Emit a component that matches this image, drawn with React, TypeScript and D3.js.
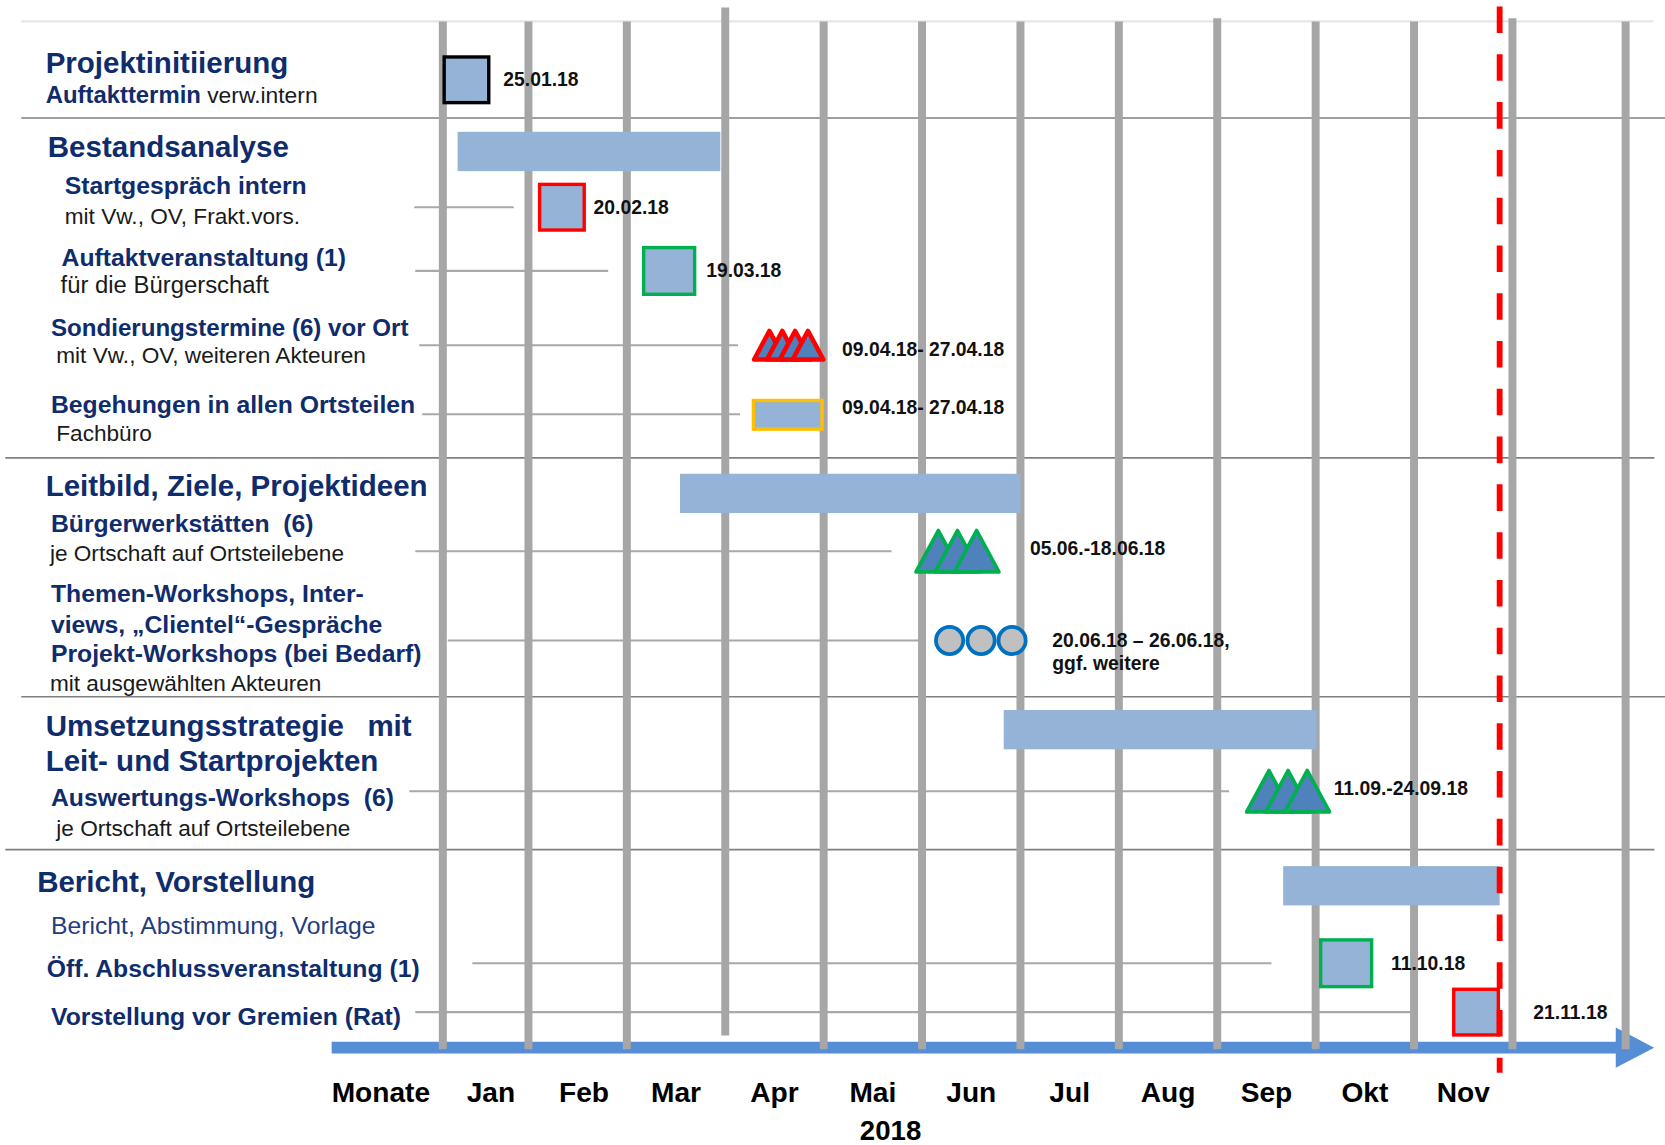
import React from 'react';
import * as d3 from 'd3';

// Positionen in Monatseinheiten: 0 = Anfang Jan, 1 = Anfang Feb, ...
const months = ['Jan', 'Feb', 'Mar', 'Apr', 'Mai', 'Jun', 'Jul', 'Aug', 'Sep', 'Okt', 'Nov'];
const gridMonths = [0.13, 1, 2, 3, 4, 5, 6, 7, 8, 9, 10, 11, 12.15];
const axisTitle = 'Monate';
const yearLabel = '2018';
const yearPos = 4.68;
const deadlinePos = 10.87;

const rows = ['init', 'bestand', 'start', 'auftakt', 'sond', 'beg', 'leit', 'bw', 'tw', 'ums', 'ausw', 'bericht', 'abschluss', 'gremien'];

// Phasen (Balken)
const phaseBars = [
  { row: 'bestand', start: 0.28, end: 2.95 },
  { row: 'leit', start: 2.54, end: 6.0 },
  { row: 'ums', start: 5.83, end: 9.01 },
  { row: 'bericht', start: 8.67, end: 10.87 },
];

// Einzeltermine (Quadrate)
const squareEvents = [
  { row: 'init', pos: 0.37, kind: 'intern', label: '25.01.18', labelPos: 0.745 },
  { row: 'start', pos: 1.34, kind: 'gremium', label: '20.02.18', labelPos: 1.662 },
  { row: 'auftakt', pos: 2.43, kind: 'oeffentlich', label: '19.03.18', labelPos: 2.806 },
  { row: 'abschluss', pos: 9.31, kind: 'oeffentlich', label: '11.10.18', labelPos: 9.766 },
  { row: 'gremien', pos: 10.63, kind: 'gremium', label: '21.11.18', labelPos: 11.212 },
];

// Terminserien (Dreiecke)
const triangleEvents = [
  { row: 'sond', start: 3.27, end: 4.02, count: 4, kind: 'gremium', label: '09.04.18- 27.04.18', labelPos: 4.187 },
  { row: 'bw', start: 4.92, end: 5.8, count: 3, kind: 'oeffentlich', label: '05.06.-18.06.18', labelPos: 6.097 },
  { row: 'ausw', start: 8.28, end: 9.16, count: 3, kind: 'oeffentlich', label: '11.09.-24.09.18', labelPos: 9.183 },
];

const rectEvents = [
  { row: 'beg', start: 3.27, end: 4.0, label: '09.04.18- 27.04.18', labelPos: 4.187 },
];

const circleEvents = [
  { row: 'tw', centers: [5.28, 5.6, 5.915], label: ['20.06.18 – 26.06.18,', 'ggf. weitere'], labelPos: 6.324 },
];

// Verbindungslinien Text -> Termin
const connectors = [
  { row: 'start', start: -0.16, end: 0.85 },
  { row: 'auftakt', start: -0.15, end: 1.81 },
  { row: 'sond', start: -0.11, end: 3.13 },
  { row: 'beg', start: -0.08, end: 3.15 },
  { row: 'bw', start: -0.15, end: 4.69 },
  { row: 'tw', start: 0.18, end: 4.96 },
  { row: 'ausw', start: -0.21, end: 8.12 },
  { row: 'abschluss', start: 0.43, end: 8.55 },
  { row: 'gremien', start: -0.15, end: 9.98 },
];

// ---------- Layout ----------
const W = 1568;
const H = 1078;
const FONT = "'Liberation Sans', Arial, Helvetica, sans-serif";
const NAVY = '#0f2c6c';
const BAR = '#95b3d7';
const GRID = '#a6a6a6';
const kindColor = { intern: '#000000', gremium: '#ff0000', oeffentlich: '#00b050' };
const rowY = [75, 142.5, 195, 255, 325, 390, 464.5, 519, 603, 687, 745, 834, 907, 953];

const H1 = 27.8, H2 = 23.3, H3 = 21.3;
const leftLabels = [
  { x: 43, y: 69, size: H1, bold: true, color: NAVY, text: 'Projektinitiierung' },
  { x: 43, y: 97, size: 22.5, bold: true, color: NAVY, text: 'Auftakttermin', tail: ' verw.intern' },
  { x: 45, y: 148, size: H1, bold: true, color: NAVY, text: 'Bestandsanalyse' },
  { x: 61, y: 183, size: H2, bold: true, color: NAVY, text: 'Startgespräch intern' },
  { x: 61, y: 211, size: H3, bold: false, color: '#1a1a1a', text: 'mit Vw., OV, Frakt.vors.' },
  { x: 58, y: 250, size: H2, bold: true, color: NAVY, text: 'Auftaktveranstaltung (1)' },
  { x: 57, y: 276, size: 22.5, bold: false, color: '#1a1a1a', text: 'für die Bürgerschaft' },
  { x: 48, y: 316, size: 22.7, bold: true, color: NAVY, text: 'Sondierungstermine (6) vor Ort' },
  { x: 53, y: 342, size: H3, bold: false, color: '#1a1a1a', text: 'mit Vw., OV, weiteren Akteuren' },
  { x: 48, y: 389, size: H2, bold: true, color: NAVY, text: 'Begehungen in allen Ortsteilen' },
  { x: 53, y: 415, size: H3, bold: false, color: '#1a1a1a', text: 'Fachbüro' },
  { x: 43, y: 467, size: H1, bold: true, color: NAVY, text: 'Leitbild, Ziele, Projektideen' },
  { x: 48, y: 501, size: H2, bold: true, color: NAVY, text: 'Bürgerwerkstätten\u00a0 (6)' },
  { x: 47, y: 528, size: H3, bold: false, color: '#1a1a1a', text: 'je Ortschaft auf Ortsteilebene' },
  { x: 48, y: 567, size: H2, bold: true, color: NAVY, text: 'Themen-Workshops, Inter-' },
  { x: 48, y: 596, size: H2, bold: true, color: NAVY, text: 'views, „Clientel“-Gespräche' },
  { x: 48, y: 623, size: H2, bold: true, color: NAVY, text: 'Projekt-Workshops (bei Bedarf)' },
  { x: 47, y: 651, size: H3, bold: false, color: '#1a1a1a', text: 'mit ausgewählten Akteuren' },
  { x: 43, y: 693, size: H1, bold: true, color: NAVY, text: 'Umsetzungsstrategie' },
  { x: 346, y: 693, size: H1, bold: true, color: NAVY, text: 'mit' },
  { x: 43, y: 726, size: H1, bold: true, color: NAVY, text: 'Leit- und Startprojekten' },
  { x: 48, y: 759, size: H2, bold: true, color: NAVY, text: 'Auswertungs-Workshops\u00a0 (6)' },
  { x: 53, y: 787, size: H3, bold: false, color: '#1a1a1a', text: 'je Ortschaft auf Ortsteilebene' },
  { x: 35, y: 840, size: H1, bold: true, color: NAVY, text: 'Bericht, Vorstellung' },
  { x: 48, y: 879, size: H2, bold: false, color: '#1f3d80', text: 'Bericht, Abstimmung, Vorlage' },
  { x: 44, y: 920, size: H2, bold: true, color: NAVY, text: 'Öff. Abschlussveranstaltung (1)' },
  { x: 48, y: 965, size: H2, bold: true, color: NAVY, text: 'Vorstellung vor Gremien (Rat)' },
];

const separators = [
  { y: 111, x1: 20, x2: 1568 },
  { y: 431, x1: 5, x2: 1558 },
  { y: 656, x1: 20, x2: 1568 },
  { y: 800, x1: 5, x2: 1558 },
];

export default function App() {
  const x = d3.scaleLinear().domain([0, 12]).range([405, 1517]);
  const y = d3.scaleOrdinal<string, number>().domain(rows).range(rowY);

  const barH = 37;
  const dateStyle = { fontFamily: FONT, fontSize: 18.2, fontWeight: 700, fill: '#111' };
  const axisY = 986.5;

  const trianglePath = (left: number, base: number, w: number, h: number) =>
    d3.line()([[left, base], [left + w / 2, base - h], [left + w, base]]) + 'Z';

  return (
    <svg
      width={1665}
      height={1145}
      viewBox={`0 0 ${W} ${H}`}
      style={{ position: 'absolute', left: 0, top: 0, background: '#fff' }}
    >
      <rect width={W} height={H} fill="#fff" />

      {/* obere Linie und Abschnittstrenner */}
      <line x1={20} x2={1557} y1={20} y2={20} stroke="#e6e6e6" strokeWidth={2} />
      {separators.map((s, i) => (
        <line key={i} x1={s.x1} x2={s.x2} y1={s.y} y2={s.y} stroke="#808080" strokeWidth={1.6} />
      ))}

      {/* Verbindungslinien */}
      {connectors.map((c, i) => (
        <line key={i} x1={x(c.start)} x2={x(c.end)} y1={y(c.row)} y2={y(c.row)} stroke="#a8a8a8" strokeWidth={2} />
      ))}

      {/* Zeitachse (Pfeil) */}
      <line x1={x(-1.0)} x2={x(12.07)} y1={axisY} y2={axisY} stroke="#558ed5" strokeWidth={11} />
      <polygon
        points={`${x(12.05)},${axisY - 19} ${x(12.44)},${axisY} ${x(12.05)},${axisY + 19}`}
        fill="#558ed5"
      />

      {/* Monatsraster */}
      {gridMonths.map((m, i) => {
        const special = i === 3;
        return (
          <line
            key={i}
            x1={x(m)}
            x2={x(m)}
            y1={special ? 7 : i === 8 || i === 11 ? 17 : 20}
            y2={special ? 975 : 988}
            stroke={GRID}
            strokeWidth={7.5}
          />
        );
      })}

      {/* Phasenbalken */}
      {phaseBars.map((b, i) => (
        <rect key={i} x={x(b.start)} y={y(b.row) - barH / 2} width={x(b.end) - x(b.start)} height={barH} fill={BAR} />
      ))}

      {/* Quadrate */}
      {squareEvents.map((s, i) => {
        const w = s.kind === 'oeffentlich' ? 48 : 42;
        const h = s.kind === 'oeffentlich' ? 44 : 43;
        return (
          <g key={i}>
            <rect
              x={x(s.pos) - w / 2}
              y={y(s.row) - h / 2}
              width={w}
              height={h}
              fill={BAR}
              stroke={kindColor[s.kind]}
              strokeWidth={3.2}
            />
            <text x={x(s.labelPos)} y={y(s.row)} dominantBaseline="central" {...dateStyle}>
              {s.label}
            </text>
          </g>
        );
      })}

      {/* Dreiecke */}
      {triangleEvents.map((t, i) => {
        const sw = t.kind === 'gremium' ? 4.2 : 3.5;
        const tw = t.kind === 'gremium' ? 29 : 42;
        const th = t.kind === 'gremium' ? 27 : 39;
        const x0 = x(t.start) + sw / 2;
        const x1 = x(t.end) - sw / 2;
        const step = (x1 - x0 - tw) / (t.count - 1);
        const base = y(t.row) + th / 2;
        return (
          <g key={i}>
            {d3.range(t.count).map((k) => (
              <path
                key={k}
                d={trianglePath(x0 + k * step, base, tw, th)}
                fill="#4f81bd"
                stroke={kindColor[t.kind]}
                strokeWidth={sw}
                strokeLinejoin="round"
              />
            ))}
            <text x={x(t.labelPos)} y={y(t.row) + (t.kind === 'gremium' ? 4 : -3)} dominantBaseline="central" {...dateStyle}>
              {t.label}
            </text>
          </g>
        );
      })}

      {/* Begehungen (Rechteck) */}
      {rectEvents.map((r, i) => (
        <g key={i}>
          <rect
            x={x(r.start) + 1.5}
            y={y(r.row) - 13}
            width={x(r.end) - x(r.start) - 3}
            height={27}
            fill={BAR}
            stroke="#ffc000"
            strokeWidth={3.2}
          />
          <text x={x(r.labelPos)} y={y(r.row) - 6} dominantBaseline="central" {...dateStyle}>
            {r.label}
          </text>
        </g>
      ))}

      {/* Kreise */}
      {circleEvents.map((c, i) => (
        <g key={i}>
          {c.centers.map((m, k) => (
            <circle key={k} cx={x(m)} cy={y(c.row)} r={12.8} fill="#c0c0c0" stroke="#0070c0" strokeWidth={3.6} />
          ))}
          {c.label.map((line, k) => (
            <text key={k} x={x(c.labelPos)} y={y(c.row) + k * 22} dominantBaseline="central" {...dateStyle}>
              {line}
            </text>
          ))}
        </g>
      ))}

      {/* Stichtag */}
      <line
        x1={x(deadlinePos)}
        x2={x(deadlinePos)}
        y1={6}
        y2={1010}
        stroke="#ff0000"
        strokeWidth={5.5}
        strokeDasharray="25 20"
      />

      {/* linke Beschriftung */}
      {leftLabels.map((l, i) => (
        <text
          key={i}
          x={l.x}
          y={l.y}
          fontFamily={FONT}
          fontSize={l.size}
          fontWeight={l.bold ? 700 : 400}
          fill={l.color}
        >
          {l.text}
          {l.tail && (
            <tspan fontWeight={400} fill="#1a1a1a" fontSize={21.5}>
              {l.tail}
            </tspan>
          )}
        </text>
      ))}

      {/* Achsenbeschriftung */}
      <text x={x(-1.0)} y={1038} fontFamily={FONT} fontSize={26.5} fontWeight={700} fill="#000">
        {axisTitle}
      </text>
      {months.map((m, i) => (
        <text
          key={m}
          x={x((gridMonths[i] + gridMonths[i + 1]) / 2) + (i === 0 ? 5 : i === 1 ? 6 : 0)}
          y={1038}
          textAnchor="middle"
          fontFamily={FONT}
          fontSize={26.5}
          fontWeight={700}
          fill="#000"
        >
          {m}
        </text>
      ))}
      <text x={x(yearPos)} y={1073} textAnchor="middle" fontFamily={FONT} fontSize={26} fontWeight={700} fill="#000">
        {yearLabel}
      </text>
    </svg>
  );
}
